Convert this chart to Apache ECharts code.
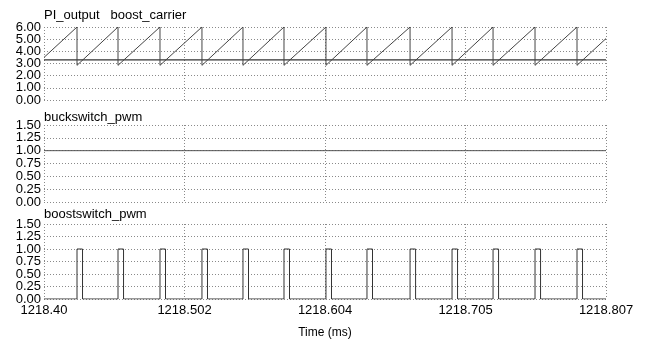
<!DOCTYPE html>
<html>
<head>
<meta charset="utf-8">
<script src="https://cdn.jsdelivr.net/npm/echarts@6/dist/echarts.min.js"></script>
<style>
  html, body { margin: 0; padding: 0; background: #fff; }
  #chart { width: 646px; height: 340px; }
</style>
</head>
<body>
<div id="chart"></div>
<script>
// x axis
const tMin = 1218.4;
const tMax = 1218.807;
const xTickLabels = ['1218.40', '1218.502', '1218.604', '1218.705', '1218.807'];

// PI_output (flat)
const piOutput = 3.3;

// boost_carrier sawtooth: start value, drop times, peak / trough, end value
const carrierStart = 3.5;
const carrierDrops = [1218.4239, 1218.4536, 1218.4840, 1218.5144, 1218.5441, 1218.5738, 1218.6042,
                      1218.6339, 1218.6651, 1218.6955, 1218.7252, 1218.7556, 1218.7860];
const carrierHigh = 6.0;
const carrierLow = 2.85;
const carrierEnd = 5.05;

// buckswitch_pwm (flat)
const buckLevel = 1.0;

// boostswitch_pwm pulses
const boostRise = [1218.4239, 1218.4536, 1218.4840, 1218.5144, 1218.5441, 1218.5738, 1218.6042,
                   1218.6339, 1218.6651, 1218.6955, 1218.7252, 1218.7556, 1218.7860];
const boostFall = [1218.4279, 1218.4576, 1218.4880, 1218.5184, 1218.5481, 1218.5778, 1218.6082,
                   1218.6379, 1218.6691, 1218.6995, 1218.7292, 1218.7596, 1218.7900];

// build line vertices
const carrierData = [[tMin, carrierStart]];
carrierDrops.forEach(t => { carrierData.push([t, carrierHigh]); carrierData.push([t, carrierLow]); });
carrierData.push([tMax, carrierEnd]);

const boostData = [[tMin, 0]];
boostRise.forEach((t, i) => {
  boostData.push([t, 0], [t, 1], [boostFall[i], 1], [boostFall[i], 0]);
});
boostData.push([tMax, 0]);

const gridLine = { show: true, lineStyle: { color: '#8a8a8a', type: [1, 2], width: 1 } };
const font = 'Liberation Sans, Arial, sans-serif';

function xAxis(idx, showLabels) {
  return {
    type: 'value', gridIndex: idx, min: tMin, max: tMax, interval: (tMax - tMin) / 4,
    axisLine: { show: false }, axisTick: { show: false },
    axisLabel: {
      show: showLabels, color: '#000', fontSize: 13, fontFamily: font, margin: 5,
      showMinLabel: true, showMaxLabel: true, hideOverlap: false,
      formatter: (v, i) => xTickLabels[i]
    },
    splitLine: gridLine,
    name: showLabels ? 'Time (ms)' : '', nameLocation: 'middle', nameGap: 28,
    nameTextStyle: { color: '#000', fontSize: 12, fontFamily: font }
  };
}
// the tick labels are tighter than one text height, so even and odd ticks
// are put on two overlapping axes to stop echarts from dropping any
function yAxis(idx, max, interval, odd) {
  return {
    type: 'value', gridIndex: idx, position: 'left', offset: 0,
    min: 0, max: max, interval: interval,
    axisLine: { show: false }, axisTick: { show: false },
    axisLabel: {
      color: '#000', fontSize: 13, fontFamily: font, margin: 3,
      showMinLabel: !odd, showMaxLabel: !odd, hideOverlap: false,
      formatter: v => (Math.round(v / interval) % 2 === (odd ? 1 : 0)) ? v.toFixed(2) : ''
    },
    splitLine: odd ? { show: false } : gridLine
  };
}

const chart = echarts.init(document.getElementById('chart'));
chart.setOption({
  animation: false,
  backgroundColor: '#fff',
  title: [
    { text: 'PI_output   boost_carrier', left: 39, top: 4 },
    { text: 'buckswitch_pwm', left: 39, top: 106 },
    { text: 'boostswitch_pwm', left: 39, top: 203 }
  ].map(t => Object.assign(t, { textStyle: { color: '#000', fontSize: 13, fontWeight: 'normal', fontFamily: font } })),
  grid: [
    { left: 44, right: 40, top: 27, height: 73 },
    { left: 44, right: 40, top: 125, height: 77 },
    { left: 44, right: 40, top: 224, height: 76 }
  ],
  xAxis: [xAxis(0, false), xAxis(1, false), xAxis(2, true)],
  yAxis: [
    yAxis(0, 6, 1, false), yAxis(0, 6, 1, true),
    yAxis(1, 1.5, 0.25, false), yAxis(1, 1.5, 0.25, true),
    yAxis(2, 1.5, 0.25, false), yAxis(2, 1.5, 0.25, true)
  ],
  series: [
    { name: 'PI_output', type: 'line', xAxisIndex: 0, yAxisIndex: 0, showSymbol: false,
      data: [[tMin, piOutput], [tMax, piOutput]], lineStyle: { color: '#333', width: 1.2 } },
    { name: 'boost_carrier', type: 'line', xAxisIndex: 0, yAxisIndex: 0, showSymbol: false,
      data: carrierData, lineStyle: { color: '#444', width: 1 } },
    { name: 'buckswitch_pwm', type: 'line', xAxisIndex: 1, yAxisIndex: 2, showSymbol: false,
      data: [[tMin, buckLevel], [tMax, buckLevel]], lineStyle: { color: '#555', width: 1 } },
    { name: 'boostswitch_pwm', type: 'line', xAxisIndex: 2, yAxisIndex: 4, showSymbol: false,
      data: boostData, lineStyle: { color: '#333', width: 1 } }
  ]
});
</script>
</body>
</html>
